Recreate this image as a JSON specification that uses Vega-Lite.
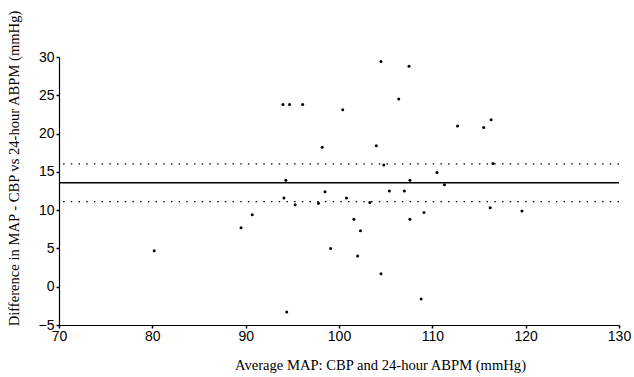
{
  "$schema": "https://vega.github.io/schema/vega-lite/v6.json",
  "width": 560,
  "height": 268,
  "autosize": {"type": "none"},
  "padding": {"left": 59, "top": 57, "right": 15, "bottom": 52},
  "background": "white",
  "config": {"view": {"stroke": null}},
  "datasets": {
    "points": [
      {"avg": 80.2, "diff": 4.7}, {"avg": 89.5, "diff": 7.7}, {"avg": 90.7, "diff": 9.4},
      {"avg": 94.0, "diff": 23.8}, {"avg": 94.7, "diff": 23.8}, {"avg": 96.1, "diff": 23.8},
      {"avg": 94.3, "diff": 13.9}, {"avg": 94.1, "diff": 11.6}, {"avg": 95.3, "diff": 10.7},
      {"avg": 94.4, "diff": -3.3}, {"avg": 97.8, "diff": 10.9}, {"avg": 98.5, "diff": 12.4},
      {"avg": 98.2, "diff": 18.2}, {"avg": 99.1, "diff": 5.0}, {"avg": 100.4, "diff": 23.1},
      {"avg": 100.8, "diff": 11.6}, {"avg": 101.6, "diff": 8.8}, {"avg": 102.0, "diff": 4.0},
      {"avg": 102.3, "diff": 7.3}, {"avg": 103.3, "diff": 11.0}, {"avg": 104.0, "diff": 18.4},
      {"avg": 104.5, "diff": 29.4}, {"avg": 104.5, "diff": 1.7}, {"avg": 104.8, "diff": 15.9},
      {"avg": 105.4, "diff": 12.5}, {"avg": 106.4, "diff": 24.5}, {"avg": 107.0, "diff": 12.5},
      {"avg": 107.5, "diff": 28.8}, {"avg": 107.6, "diff": 13.9}, {"avg": 107.6, "diff": 8.8},
      {"avg": 108.8, "diff": -1.6}, {"avg": 109.1, "diff": 9.7}, {"avg": 110.5, "diff": 14.9},
      {"avg": 111.3, "diff": 13.3}, {"avg": 112.7, "diff": 21.0}, {"avg": 115.5, "diff": 20.8},
      {"avg": 116.3, "diff": 21.8}, {"avg": 116.5, "diff": 16.1}, {"avg": 116.2, "diff": 10.3},
      {"avg": 119.6, "diff": 9.9}
    ],
    "mean": [{"diff": 13.58}],
    "limits": [{"diff": 16.05}, {"diff": 11.1}]
  },
  "encoding": {
    "y": {
      "field": "diff", "type": "quantitative",
      "scale": {"domain": [-5, 30], "nice": false, "zero": false},
      "axis": {
        "title": "Difference in MAP - CBP vs 24-hour ABPM (mmHg)",
        "values": [-5, 0, 5, 10, 15, 20, 25, 30],
        "grid": false, "domainColor": "black", "domainWidth": 1.2,
        "tickColor": "black", "tickSize": 3, "tickWidth": 1.5,
        "labelFont": "Liberation Sans", "labelFontSize": 14, "labelColor": "black", "labelPadding": 2,
        "labelOverlap": false, "labelFlush": false, "labelBound": false,
        "titleFont": "Liberation Serif", "titleFontSize": 14.6, "titleFontWeight": "normal", "titleColor": "black",
        "titleX": -45, "titleY": 111, "titleAnchor": "middle", "titleBaseline": "middle"
      }
    }
  },
  "layer": [
    {
      "data": {"name": "points"},
      "mark": {"type": "point", "filled": true, "shape": "circle", "size": 9, "color": "black", "opacity": 1},
      "encoding": {
        "x": {
          "field": "avg", "type": "quantitative",
          "scale": {"domain": [70, 130], "nice": false, "zero": false},
          "axis": {
            "title": "Average MAP: CBP  and  24-hour ABPM (mmHg)",
            "values": [70, 80, 90, 100, 110, 120, 130],
            "grid": false, "domainColor": "black", "domainWidth": 1.2,
            "tickColor": "black", "tickSize": 3, "tickWidth": 1.5,
            "labelFont": "Liberation Sans", "labelFontSize": 14, "labelColor": "black", "labelPadding": 1,
            "labelOverlap": false, "labelFlush": false, "labelBound": false,
            "titleFont": "Liberation Serif", "titleFontSize": 14.6, "titleFontWeight": "normal", "titleColor": "black",
            "titleX": 321, "titleY": 44, "titleAnchor": "middle", "titleBaseline": "alphabetic"
          }
        }
      }
    },
    {
      "data": {"name": "mean"},
      "mark": {"type": "rule", "color": "black", "strokeWidth": 1.4},
      "encoding": {}
    },
    {
      "data": {"name": "limits"},
      "mark": {"type": "rule", "color": "black", "strokeWidth": 1.3, "strokeDash": [1.5, 6.2]},
      "encoding": {}
    }
  ]
}
